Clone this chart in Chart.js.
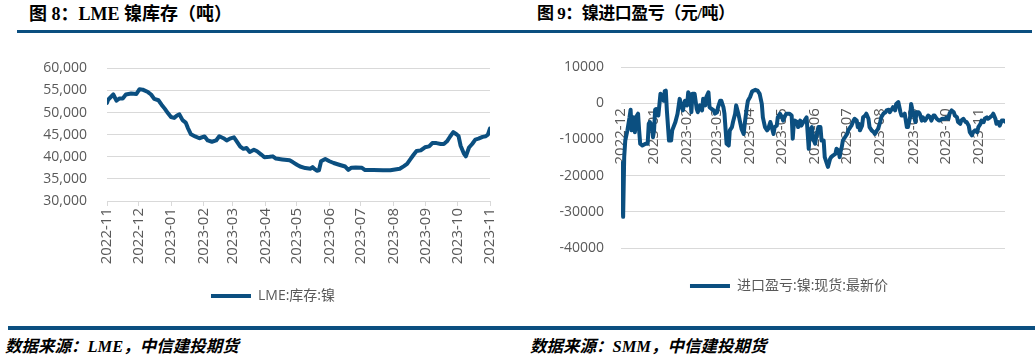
<!DOCTYPE html>
<html><head><meta charset="utf-8">
<script src="https://cdn.jsdelivr.net/npm/chart.js@4/dist/chart.umd.min.js"></script>
<style>
html,body{margin:0;padding:0;background:#fff;}
body{width:1035px;height:359px;position:relative;overflow:hidden;}
.title{position:absolute;top:3px;font:bold 17px "Liberation Serif","Noto Sans CJK SC",serif;color:#000;white-space:nowrap;line-height:22px}
.rule{position:absolute;background:#0b4f80}
.src{position:absolute;top:337px;font:italic bold 16.5px "Liberation Serif","Noto Sans CJK SC",serif;color:#000;white-space:nowrap;line-height:20px}
canvas{position:absolute;top:40px}
</style></head>
<body>
<div class="title" style="left:29px;font-size:18px">图 8：LME 镍库存（吨）</div>
<div class="title" style="left:537px;letter-spacing:-0.5px">图 9：镍进口盈亏（元/吨）</div>
<div class="rule" style="left:17px;top:30px;width:1015px;height:3px"></div>
<canvas id="inv" width="520" height="275" style="left:0"></canvas>
<canvas id="pnl" width="515" height="275" style="left:520px"></canvas>
<div class="rule" style="left:8px;top:326px;width:1027px;height:4px"></div>
<div class="src" style="left:5px">数据来源：LME，中信建投期货</div>
<div class="src" style="left:530px">数据来源：SMM，中信建投期货</div>
<script>
// ---- data: LME nickel inventory (t), day offsets from 2022-11-01 ----
const invBase = '2022-11-01';
const invTickLabels = ['2022-11','2022-12','2023-01','2023-02','2023-03','2023-04','2023-05','2023-06','2023-07','2023-08','2023-09','2023-10','2023-11'];
const invDays = [0,1,6,9,12,15,18,23,28,31,34,39,42,45,49,52,55,58,61,64,67,69,72,75,77,80,84,88,93,96,100,104,107,111,114,117,121,123,127,130,133,136,140,143,147,150,155,158,161,167,174,177,181,184,189,194,196,198,200,202,204,208,212,216,222,227,230,233,237,243,246,254,263,270,276,279,283,286,289,292,295,299,303,307,310,314,318,321,324,327,330,333,335,337,340,342,345,348,351,354,358,361,363,365];
const invValues = [52200,52900,54100,52700,53200,53200,54100,54300,54200,55300,55200,54650,54100,53100,52800,51800,50900,49900,49000,48800,49400,49600,48300,47750,46550,45100,44600,44200,44600,43700,43400,43700,44650,44200,43700,44100,44400,43700,42300,41800,42000,41100,41600,41250,40500,39900,40000,40100,39600,39400,39200,38800,38200,37800,37450,37300,37650,37200,36850,36950,39000,39500,39000,38600,38150,37800,37050,37550,37600,37500,37000,37000,36950,36950,37200,37300,37900,38400,39400,40400,41300,41450,42150,42350,43100,43100,42900,42900,43500,44600,45600,45100,44700,42500,40800,40100,42100,42900,43900,44100,44500,44650,45000,46400];

// ---- data: nickel import profit/loss (CNY/t), day offsets from 2022-12-01 ----
const pnlBase = '2022-12-01';
const pnlTickLabels = ['2022-12','2023-01','2023-02','2023-03','2023-04','2023-05','2023-06','2023-07','2023-08','2023-09','2023-10','2023-11'];
const pnlDays = [0,2,3,4,6,8,9,10,11,12,
13,15,16,17,18,20,23,25,26,27,
29,30,31,32,33,35,37,38,40,41,
42,43,45,47,48,51,53,55,57,58,
60,62,63,65,66,67,69,71,72,74,
76,77,79,80,82,83,85,87,88,90,
91,93,94,96,97,99,101,102,104,105,
107,108,110,112,113,115,116,118,119,121,
123,126,128,130,132,133,135,137,138,140,
141,143,144,146,147,149,151,152,154,155,
158,160,161,162,163,165,166,168,169,171,
172,174,176,177,179,180,182,183,185,187,
188,190,191,193,194,196,197,199,201,202,
204,205,206,207,208,210,212,213,215,216,
218,219,221,222,223,224,226,227,229,230,
232,233,235,237,238,240,241,243,244,246,
248,249,251,252,254,255,257,258,260,262,
263,265,266,268,269,271,272,273,275,276,
277,279,280,282,283,285,287,288,290,291,
293,294,296,298,299,301,302,304,305,307,
308,310,312,313,315,316,318,319,321,323,
324,326,327,329,330,332,334,335,337,338,
340,341,343,344,346,348,349,351,352,354,
355,357,359,360];
const pnlValues = [-16500,-31400,-14900,-10300,-7500,-3900,-1800,-7500,-7100,-3900,
-8000,-3400,-2900,-7500,-11200,-11700,-11200,-11200,-5700,-5200,
-6200,-9400,-7500,-1800,-1600,-3400,2600,2100,700,3300,
3500,-2000,-10300,-10300,-7500,-5200,-2900,1200,-1100,-2000,
700,-600,3000,2100,-2500,2600,2600,-1600,-2500,-600,
-2000,1200,-600,1700,3000,-1100,-1600,-2000,-2900,-2500,
-1100,700,700,-1100,-2900,-11200,-11700,-7500,-6600,-5200,
-2900,-600,-2900,-5700,-7100,-8500,-5700,-1100,700,1700,
3300,3700,3500,2600,-200,-3900,-6600,-7500,-7100,-5200,
-6200,-8500,-6600,-6200,-3900,-2900,-3900,-4800,-3400,-2900,
-2900,-3400,-9800,-5700,-4800,-5200,-6600,-4800,-6200,-5200,
-4800,-3900,-12600,-7500,-6600,-9800,-11200,-9400,-6600,-6600,
-10300,-10300,-14900,-16700,-17600,-15400,-14900,-14400,-14000,-12600,
-13100,-14900,-13100,-12100,-10300,-9400,-8500,-7500,-6600,-6200,
-4800,-4300,-4800,-6600,-5700,-7500,-6200,-3900,-3400,-2900,
-4300,-6600,-7500,-8000,-8500,-7500,-7100,-5200,-3900,-2900,
-2500,-2000,-1800,-2500,-1600,-1100,-2000,-200,300,-2500,
-3400,-3400,-2900,-6600,-6600,-3900,-200,-1600,-3900,-5200,
-2500,-2500,-2900,-4800,-3900,-4800,-3900,-3400,-3900,-4800,
-3400,-3400,-4300,-4800,-4800,-4300,-4300,-4300,-3900,-4300,
-2900,-2000,-2500,-3400,-3900,-5200,-5700,-4800,-4300,-5200,
-5200,-6200,-8000,-8900,-8000,-7500,-8000,-6600,-5700,-4800,
-5200,-4300,-3900,-4300,-3900,-3400,-2900,-4300,-5700,-5200,
-6200,-4800,-4800,-5100];

const BLUE = '#0b4f80';
const GRID = '#d9d9d9';
const TXT = '#595959';
const FONT = '"Open Sans","Noto Sans CJK SC",sans-serif';

function dayOffset(label, base) {
  return Math.round((Date.parse(label + '-01T00:00:00Z') - Date.parse(base + 'T00:00:00Z')) / 864e5);
}
const invTickDays = invTickLabels.map(l => dayOffset(l, invBase));
const pnlTickDays = pnlTickLabels.map(l => dayOffset(l, pnlBase));

// re-centre the bottom legend horizontally at a given canvas x
const legendCenter = {
  id: 'legendCenter',
  afterLayout(chart, args, opts) {
    const lg = chart.legend;
    if (!lg || opts.x == null) return;
    const w = lg.right - lg.left;
    lg.left = opts.x - w / 2;
    lg.right = opts.x + w / 2;
  }
};

const legendOpts = {
  position: 'bottom',
  labels: { usePointStyle: true, pointStyle: 'line', pointStyleWidth: 40, padding: 10, color: TXT, font: { size: 14, family: FONT } }
};

new Chart(document.getElementById('inv'), {
  type: 'line',
  data: { datasets: [{
    label: 'LME:库存:镍',
    data: invDays.map((d, i) => ({ x: d, y: invValues[i] })),
    borderColor: BLUE, backgroundColor: BLUE, borderWidth: 4,
    pointRadius: 0, tension: 0, borderJoinStyle: 'round', borderCapStyle: 'round'
  }]},
  options: {
    responsive: false, animation: false, devicePixelRatio: 1,
    layout: { padding: { left: 0, right: 30, top: 17, bottom: 2 } },
    plugins: { legend: legendOpts, tooltip: { enabled: false }, legendCenter: { x: 273 } },
    scales: {
      x: {
        type: 'linear', min: invTickDays[0], max: invTickDays[invTickDays.length - 1],
        afterBuildTicks: s => { s.ticks = invTickDays.map(v => ({ value: v })); },
        afterFit: s => { s.height = 78; },
        ticks: { autoSkip: false, maxRotation: 90, minRotation: 90, padding: 2, color: TXT,
                 font: { size: 15, family: FONT },
                 callback: (v, i) => invTickLabels[i] },
        grid: { drawOnChartArea: false, drawTicks: true, tickLength: 5, color: GRID },
        border: { display: true, color: GRID }
      },
      y: {
        min: 30000, max: 60000,
        afterFit: s => { s.width = 107; },
        ticks: { stepSize: 5000, padding: 20, color: TXT, font: { size: 14, family: FONT },
                 callback: v => v.toLocaleString('en-US') },
        grid: { color: GRID, drawTicks: false },
        border: { display: false }
      }
    }
  },
  plugins: [legendCenter]
});

const zeroAxisLabels = {
  id: 'zeroAxisLabels',
  beforeDatasetsDraw(chart) {
    const { ctx, scales: { x, y } } = chart;
    const y0 = y.getPixelForValue(0);
    ctx.save();
    ctx.fillStyle = TXT;
    ctx.font = '15px ' + FONT;
    ctx.textAlign = 'right';
    ctx.textBaseline = 'middle';
    pnlTickDays.forEach((d, i) => {
      ctx.save();
      ctx.translate(x.getPixelForValue(d), y0 + 5);
      ctx.rotate(-Math.PI / 2);
      ctx.fillText(pnlTickLabels[i], 0, 0);
      ctx.restore();
    });
    ctx.restore();
  }
};

new Chart(document.getElementById('pnl'), {
  type: 'line',
  data: { datasets: [{
    label: '进口盈亏:镍:现货:最新价',
    data: pnlDays.map((d, i) => ({ x: d, y: pnlValues[i] })),
    borderColor: BLUE, backgroundColor: BLUE, borderWidth: 4,
    pointRadius: 0, tension: 0, borderJoinStyle: 'round', borderCapStyle: 'round'
  }]},
  options: {
    responsive: false, animation: false, devicePixelRatio: 1,
    layout: { padding: { left: 0, right: 30, top: 27, bottom: 12 } },
    plugins: { legend: legendOpts, tooltip: { enabled: false }, legendCenter: { x: 269 } },
    scales: {
      x: {
        type: 'linear', min: pnlDays[0], max: pnlDays[pnlDays.length - 1],
        afterFit: s => { s.height = 21; },
        ticks: { display: false },
        grid: { display: false },
        border: { display: false }
      },
      y: {
        min: -40000, max: 10000,
        afterFit: s => { s.width = 101; },
        ticks: { stepSize: 10000, padding: 17, color: TXT, font: { size: 14, family: FONT },
                 callback: v => String(v) },
        grid: { color: GRID, drawTicks: false },
        border: { display: false }
      }
    }
  },
  plugins: [zeroAxisLabels, legendCenter]
});
</script>
</body></html>
